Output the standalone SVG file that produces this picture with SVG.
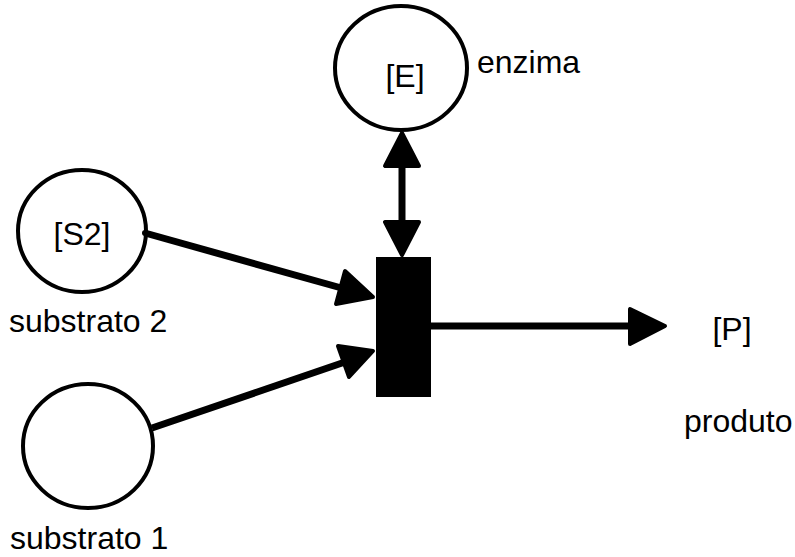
<svg xmlns="http://www.w3.org/2000/svg" width="795" height="557" viewBox="0 0 795 557">
<style>
.node{fill:#fff;stroke:#000;stroke-width:4}
.lbl{font-family:"Liberation Sans",Arial,sans-serif;font-size:32px;fill:#000}
.mid{text-anchor:middle}
.ln{stroke:#000;stroke-width:7;fill:none}
.hd{fill:#000;stroke:#000;stroke-width:4;stroke-linejoin:round}
</style>
<rect width="795" height="557" fill="#fff"/>
<g id="connectors">
<line class="ln" x1="145" y1="233" x2="345" y2="289"/>
<polygon class="hd" points="373,297 345,271 336,304"/>
<line class="ln" x1="152" y1="428" x2="345" y2="362"/>
<polygon class="hd" points="373,351 338,346 349,377"/>
<line class="ln" x1="402" y1="165" x2="402" y2="222"/>
<polygon class="hd" points="402,133 385,166 419,166"/>
<polygon class="hd" points="402,255 385,222 419,222"/>
<line class="ln" x1="431" y1="326" x2="632" y2="326"/>
<polygon class="hd" points="665,326 630,309 630,344"/>
</g>
<g id="E">
<ellipse class="node" cx="401" cy="68" rx="66" ry="62"/>
<text class="lbl mid" x="405" y="87">[E]</text>
<text class="lbl" x="477" y="73">enzima</text>
</g>
<g id="S2">
<ellipse class="node" cx="82" cy="231" rx="64" ry="61"/>
<circle cx="145" cy="233" r="3"/>
<text class="lbl mid" x="82" y="245">[S2]</text>
<text class="lbl" x="9" y="332">substrato 2</text>
</g>
<g id="S1">
<ellipse class="node" cx="88" cy="446" rx="65" ry="62"/>
<text class="lbl" x="10" y="549">substrato 1</text>
</g>
<g id="reaction">
<rect x="376" y="257" width="55" height="140" fill="#000"/>
</g>
<g id="P">
<text class="lbl mid" x="732" y="340">[P]</text>
<text class="lbl" x="684" y="432">produto</text>
</g>
</svg>
